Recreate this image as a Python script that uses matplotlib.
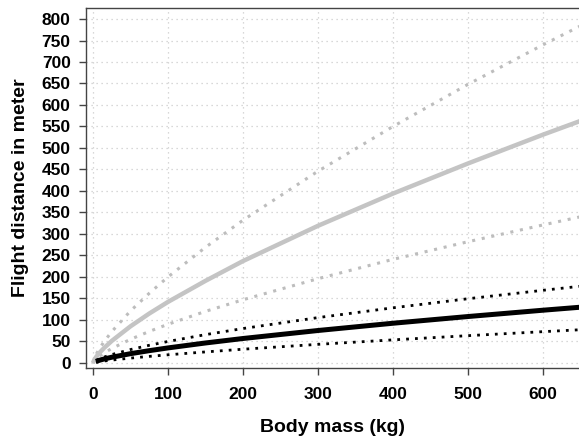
import matplotlib
matplotlib.use("Agg")
import matplotlib.pyplot as plt

# body mass (kg) and flight distance (m)
mass_grey = [0, 2, 5, 10, 15, 25, 50, 75, 100, 150, 200, 300, 400, 500, 600, 650]
grey_mid = [0, 8.0, 15.7, 26.1, 35.1, 51.2, 85.2, 114.9, 142, 191, 237, 319, 394, 464, 531, 563]
grey_hi = [0, 11.5, 22.4, 37.2, 50.0, 72.7, 121, 162, 200, 269, 332, 446, 550, 648, 740, 784]
grey_lo = [0, 5.6, 10.7, 17.5, 23.4, 33.6, 55, 73.3, 90, 120, 147, 196, 241, 282, 321, 340]

mass_black = [4, 10, 15, 25, 50, 75, 100, 150, 200, 300, 400, 500, 600, 650]
black_mid = [3.7, 7.0, 9.3, 13.3, 21.6, 28.6, 35, 46.5, 56.9, 75.5, 92.4, 108, 122.7, 129.7]
black_hi = [5.6, 10.4, 13.8, 19.5, 31.2, 41.1, 50, 65.9, 80.1, 105.5, 128.3, 149.4, 169, 178.5]
black_lo = [1.7, 3.4, 4.6, 6.7, 11.3, 15.3, 19, 25.7, 32, 43.3, 53.7, 63.5, 72.8, 77.3]

xticks = [0, 100, 200, 300, 400, 500, 600]
yticks = list(range(0, 801, 50))

plt.rcParams['font.family'] = ['Liberation Sans', 'DejaVu Sans']
plt.rcParams['font.weight'] = 'bold'

fig = plt.figure(figsize=(5.79, 4.37), dpi=100)
ax = fig.add_axes([0.1485, 0.158, 0.8515, 0.8237])

ax.grid(True, color='#cccccc', linestyle=(0, (1, 3)), linewidth=0.9)
ax.set_axisbelow(True)

dots = (0, (1, 2.2))
ax.plot(mass_grey, grey_hi, color='#bdbdbd', linestyle=dots, linewidth=2.2)
ax.plot(mass_grey, grey_lo, color='#bdbdbd', linestyle=dots, linewidth=2.2)
ax.plot(mass_grey, grey_mid, color='#c4c4c4', linewidth=3.2, solid_capstyle='butt')
ax.plot(mass_black, black_hi, color='black', linestyle=dots, linewidth=2.0)
ax.plot(mass_black, black_lo, color='black', linestyle=dots, linewidth=2.0)
ax.plot(mass_black, black_mid, color='black', linewidth=3.6, solid_capstyle='butt')

ax.set_xlim(-9.3, 648)
ax.set_ylim(-11.6, 825.6)
ax.set_xticks(xticks)
ax.set_yticks(yticks)

for s in ['left', 'bottom', 'top']:
    ax.spines[s].set_color('#444444')
    ax.spines[s].set_linewidth(1.0)
ax.spines['right'].set_visible(False)

ax.tick_params(axis='y', length=5, width=1, color='#444444', pad=6, labelsize=12.5)
ax.tick_params(axis='x', length=5, width=1, color='#444444', pad=9, labelsize=12.5)

ax.set_xlabel('Body mass (kg)', fontsize=14, fontweight='bold', labelpad=12)
ax.set_ylabel('Flight distance in meter', fontsize=14, fontweight='bold', labelpad=9)

fig.savefig('out.png', dpi=100)
